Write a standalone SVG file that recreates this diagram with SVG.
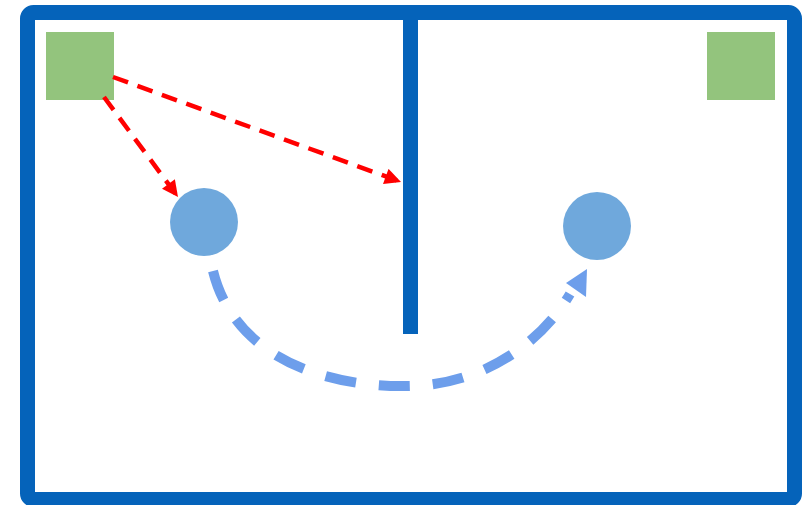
<svg xmlns="http://www.w3.org/2000/svg" width="807" height="505" viewBox="0 0 807 505">
<defs>
<style>
.wall{fill:none;stroke:#0563BA;stroke-width:15}
.box{fill:#93C47D}
.ball{fill:#6FA8DC}
.red{fill:none;stroke:#FF0000;stroke-width:4.5;stroke-dasharray:16 10}
.blue{fill:none;stroke:#6D9EEB;stroke-width:10;stroke-dasharray:31 23}
</style>
<marker id="ar" viewBox="0 0 10 10" refX="10" refY="5" markerWidth="4" markerHeight="3.6" orient="auto" markerUnits="strokeWidth"><path d="M0,0L10,5L0,10z" fill="#FF0000"/></marker>
</defs>
<g id="room">
<rect class="wall" x="27.5" y="12.5" width="767" height="487" rx="6"/>
<line class="wall" x1="410.5" y1="20" x2="410.5" y2="334"/>
</g>
<g id="box-left"><rect class="box" x="46" y="32" width="68" height="68"/></g>
<g id="box-right"><rect class="box" x="707" y="32" width="68" height="68"/></g>
<g id="ball-left"><circle class="ball" cx="204" cy="222" r="34"/></g>
<g id="ball-right"><circle class="ball" cx="597" cy="226" r="34"/></g>
<g id="connectors">
<line class="red" x1="113" y1="77" x2="401" y2="182" marker-end="url(#ar)"/>
<line class="red" x1="104" y1="97" x2="178" y2="197" marker-end="url(#ar)"/>
<path class="blue" d="M213,271 C235,360 330,388 410,386 C480,385 540,345 570,294"/>
<polygon points="587,269 566,283 586,297" fill="#6D9EEB"/>
</g>
</svg>
